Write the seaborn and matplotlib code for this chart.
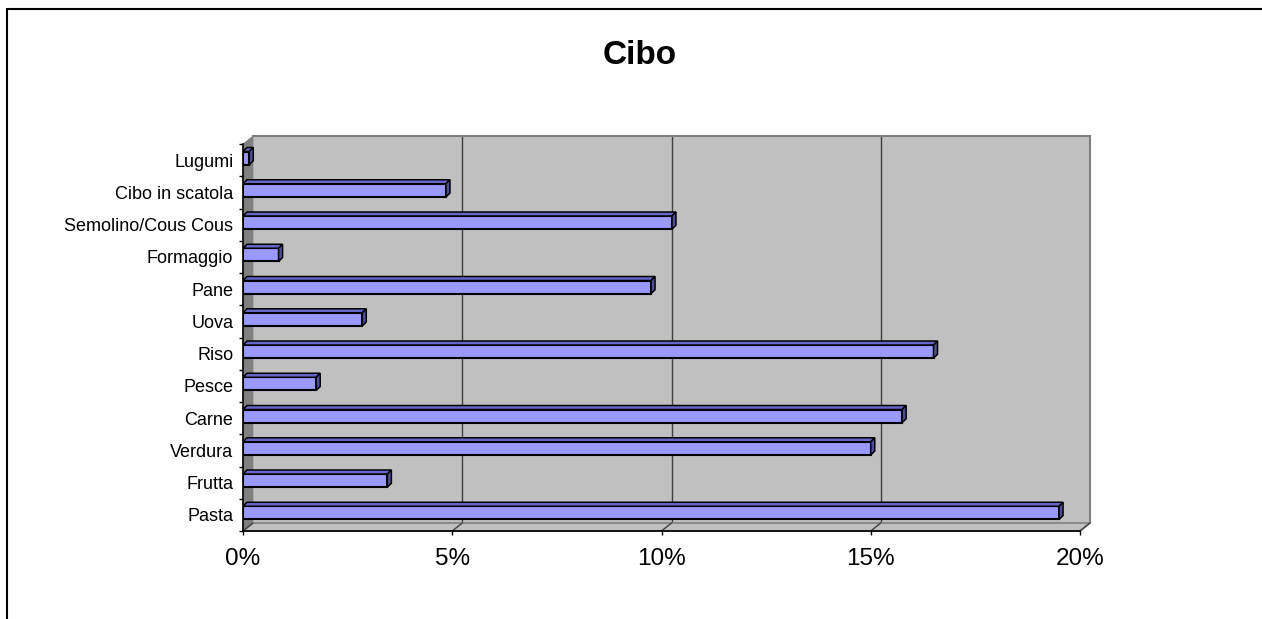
import matplotlib
matplotlib.use("Agg")
import matplotlib.pyplot as plt
import seaborn as sns
import numpy as np
from matplotlib.patches import Polygon
from matplotlib.lines import Line2D
from matplotlib.ticker import FuncFormatter, FixedLocator

# Data
categories = [
    "Lugumi", "Cibo in scatola", "Semolino/Cous Cous", "Formaggio", "Pane",
    "Uova", "Riso", "Pesce", "Carne", "Verdura", "Frutta", "Pasta",
]
values = [0.15, 4.85, 10.25, 0.85, 9.75, 2.85, 16.5, 1.75, 15.75, 15.0, 3.45, 19.5]
x_ticks = [0, 5, 10, 15, 20]
title = "Cibo"

sns.set_style("white")
plt.rcParams["font.family"] = ["Liberation Sans", "DejaVu Sans"]
plt.rcParams["text.color"] = "black"
plt.rcParams["xtick.color"] = "black"
plt.rcParams["ytick.color"] = "black"

W, H = 1262, 619
fig = plt.figure(figsize=(W / 100, H / 100), dpi=100)


def fx(x):
    return x / W


def fy(y):
    return 1 - y / H


# Geometry (pixels, y from top)
fl, fr, ft, fb = 243, 1080, 144, 531  # front plane
ddx, ddy = 10, 8  # depth offset of back wall

# Back wall
back = fig.add_axes([fx(fl + ddx), fy(fb - ddy), (fr - fl) / W, (fb - ft) / H])
back.set_facecolor("#C0C0C0")
back.set_xlim(0, 20)
back.set_ylim(0, 1)
back.set_xticks([])
back.set_yticks([])
for t in x_ticks[1:-1]:
    back.axvline(t, color="#404040", lw=1)
for s in ["left", "bottom"]:
    back.spines[s].set_visible(False)
for s in ["top", "right"]:
    back.spines[s].set_color("#808080")
    back.spines[s].set_linewidth(1.5)
back.set_zorder(0)

# Left side wall
wall = Polygon(
    [(fx(fl), fy(fb)), (fx(fl), fy(ft)), (fx(fl + ddx), fy(ft - ddy)), (fx(fl + ddx), fy(fb - ddy))],
    closed=True, transform=fig.transFigure, facecolor="#808080", edgecolor="#808080", lw=0.5, zorder=1,
)
fig.add_artist(wall)

# Floor
floor = Polygon(
    [(fx(fl), fy(fb)), (fx(fr), fy(fb)), (fx(fr + ddx), fy(fb - ddy)), (fx(fl + ddx), fy(fb - ddy))],
    closed=True, transform=fig.transFigure, facecolor="#C0C0C0", edgecolor="#808080", lw=1.2, zorder=1,
)
fig.add_artist(floor)
px_per_unit = (fr - fl) / 20
for t in x_ticks:
    xf = fl + t * px_per_unit
    fig.add_artist(Line2D([fx(xf), fx(xf + ddx)], [fy(fb), fy(fb - ddy)],
                          transform=fig.transFigure, color="#404040", lw=1, zorder=2))

# Front axes with bars
ax = fig.add_axes([fx(fl), fy(fb), (fr - fl) / W, (fb - ft) / H])
ax.set_zorder(3)
ax.patch.set_alpha(0)
sns.barplot(x=values, y=categories, orient="h", color="#9999FF", edgecolor="black",
            linewidth=1.5, width=0.41, saturation=1, ax=ax)
ax.set_xlim(0, 20)
ax.set_ylim(11.5, -0.5)

# 3D faces on bars (bars sit slightly up from the front plane)
sx = 20 / (fr - fl)
sy = 12 / (fb - ft)
d = 4
lift = 2 * sy
for p in list(ax.patches):
    p.set_y(p.get_y() - lift)
    x0, y0 = p.get_x(), p.get_y()
    w, h = p.get_width(), p.get_height()
    y_top = y0  # inverted axis: y0 is visual top
    y_bot = y0 + h
    top = Polygon([(x0, y_top), (x0 + w, y_top), (x0 + w + d * sx, y_top - d * sy), (x0 + d * sx, y_top - d * sy)],
                  closed=True, facecolor="#6666CC", edgecolor="black", lw=1.1, zorder=p.get_zorder())
    side = Polygon([(x0 + w, y_top), (x0 + w + d * sx, y_top - d * sy), (x0 + w + d * sx, y_bot - d * sy), (x0 + w, y_bot)],
                   closed=True, facecolor="#4D4D99", edgecolor="black", lw=1.1, zorder=p.get_zorder())
    ax.add_patch(top)
    ax.add_patch(side)

# Axes styling
for s in ["top", "right"]:
    ax.spines[s].set_visible(False)
for s in ["left", "bottom"]:
    ax.spines[s].set_color("black")
    ax.spines[s].set_linewidth(1.2)

ax.set_xticks(x_ticks)
ax.xaxis.set_major_formatter(FuncFormatter(lambda v, pos: f"{v:.0f}%"))
ax.tick_params(axis="x", direction="out", length=3, width=1, color="black",
               labelsize=17.5, labelcolor="black", pad=9, bottom=True)
ax.yaxis.set_minor_locator(FixedLocator(np.arange(-0.5, 12, 1)))
ax.tick_params(axis="y", which="major", length=0, labelsize=13, labelcolor="black", pad=7, left=True)
ax.tick_params(axis="y", which="minor", length=3, width=1, color="black", left=True)
ax.set_xlabel("")
ax.set_ylabel("")

# Title
fig.text(fx(640), fy(56), title, ha="center", va="center", fontsize=24, fontweight="bold", color="black")

# Chart area border
fig.add_artist(Line2D([fx(7), fx(W)], [fy(9), fy(9)], transform=fig.transFigure, color="black", lw=1.5))
fig.add_artist(Line2D([fx(7), fx(7)], [fy(9), fy(H)], transform=fig.transFigure, color="black", lw=1.5))

fig.savefig("out.png", dpi=100)
